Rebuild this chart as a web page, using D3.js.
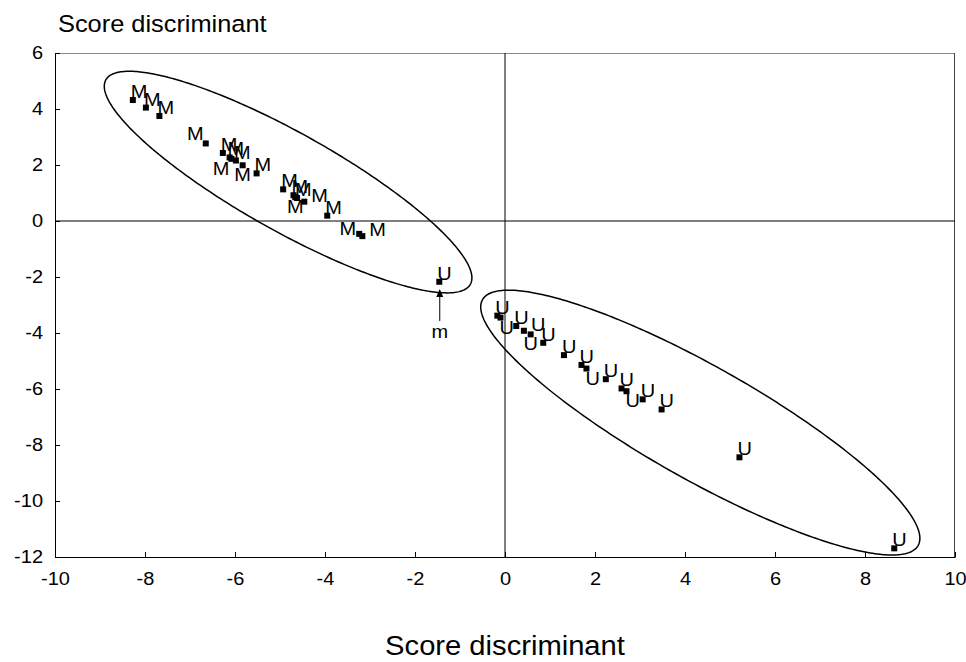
<!DOCTYPE html>
<html>
<head>
<meta charset="utf-8">
<script src="https://cdn.jsdelivr.net/npm/d3@7"></script>
<style>
  body { margin: 0; background: #fff; }
  svg text { font-family: "Liberation Sans", Arial, sans-serif; fill: #000; }
</style>
</head>
<body>
<div id="chart"></div>
<script>
// axes
const xTicks = [-10, -8, -6, -4, -2, 0, 2, 4, 6, 8, 10];
const yTicks = [-12, -10, -8, -6, -4, -2, 0, 2, 4, 6];
const axisTitle = "Score discriminant";

// groupe M
const mX = [-8.27, -7.98, -7.68, -6.65, -6.27, -6.12, -5.98, -5.83, -5.52, -6.08,
            -4.93, -4.70, -4.62, -4.46, -3.95, -4.66, -3.24, -3.17];
const mY = [4.32, 4.05, 3.75, 2.77, 2.43, 2.27, 2.16, 1.99, 1.70, 2.22,
            1.13, 0.92, 0.82, 0.69, 0.19, 0.85, -0.46, -0.54];
const mSide = ['ur','ur','ur','ul','ur','ur','ur','d','ur','dl',
               'ur','ur','ur','r','ur','d','l','r'];

// groupe U
const uX = [-1.46, -0.17, -0.10, 0.25, 0.42, 0.57, 0.85, 1.31, 1.70, 1.81,
            2.24, 2.59, 2.70, 3.06, 3.48, 5.21, 8.65];
const uY = [-2.17, -3.38, -3.45, -3.75, -3.92, -4.05, -4.35, -4.79, -5.14, -5.27,
            -5.65, -5.98, -6.08, -6.37, -6.73, -8.44, -11.69];
const uSide = ['ur','ur','dr','ur','r','d','ur','ur','ur','dr',
               'ur','ur','dr','ur','ur','ur','ur'];

// ellipses (centre + demi-diametres conjugues, en unites du graphe)
const ellCx = [-4.82, 4.34];
const ellCy = [1.39, -7.20];
const ellAx = [4.05, 4.84];
const ellAy = [-3.65, -4.39];
const ellBx = [-0.53, -0.62];
const ellBy = [-1.53, -1.76];

// fleche "m"
const arrowX = -1.45;
const arrowY = [-3.57, -2.43];
const arrowLabel = "m";

const svg_width = 966, svg_height = 662;
const margin = {top: 53, right: 11, bottom: 105, left: 55};
const width = svg_width - margin.left - margin.right;
const height = svg_height - margin.top - margin.bottom;
const stretch = 1.08;

const svg = d3.select('#chart').append('svg')
  .attr('width', svg_width).attr('height', svg_height);
const g = svg.append('g').attr('transform', `translate(${margin.left},${margin.top})`);

const x = d3.scaleLinear().domain([-10, 10]).range([0, width]);
const y = d3.scaleLinear().domain([-12, 6]).range([height, 0]);

// cadre haut / droite
g.append('line').attr('x1', 0).attr('x2', width).attr('y1', 0.5).attr('y2', 0.5)
  .attr('stroke', '#8a8a8a').attr('stroke-width', 1);
g.append('line').attr('x1', width - 0.5).attr('x2', width - 0.5).attr('y1', 0).attr('y2', height)
  .attr('stroke', '#444').attr('stroke-width', 1);

// lignes du zero
g.append('line').attr('x1', x(0)).attr('x2', x(0)).attr('y1', 0).attr('y2', height)
  .attr('stroke', '#000').attr('stroke-width', 1);
g.append('line').attr('x1', 0).attr('x2', width).attr('y1', y(0)).attr('y2', y(0))
  .attr('stroke', '#000').attr('stroke-width', 1);

// axes (tiret simple comme signe moins)
const plain = d => String(d);
const xAxis = d3.axisBottom(x).tickValues(xTicks).tickFormat(plain)
  .tickSizeInner(-5).tickSizeOuter(0).tickPadding(15);
const xAxisDraw = g.append('g').attr('transform', `translate(0,${height})`).call(xAxis);
const yAxis = d3.axisLeft(y).tickValues(yTicks).tickFormat(plain)
  .tickSizeInner(-5).tickSizeOuter(0).tickPadding(12);
const yAxisDraw = g.append('g').call(yAxis);
[xAxisDraw, yAxisDraw].forEach(a => {
  a.select('.domain').attr('stroke', '#000');
  a.selectAll('.tick line').attr('stroke', '#000');
  a.selectAll('text').style('font-size', '18.5px').attr('font-family', null)
    .attr('transform', `scale(${stretch},1)`);
});
yAxisDraw.selectAll('text').attr('x', -12 / stretch);

// ellipses
const ellLine = d3.line().curve(d3.curveLinearClosed);
ellCx.forEach((cx, i) => {
  const pts = d3.range(0, 2 * Math.PI, Math.PI / 180).map(t => [
    x(cx + Math.cos(t) * ellAx[i] + Math.sin(t) * ellBx[i]),
    y(ellCy[i] + Math.cos(t) * ellAy[i] + Math.sin(t) * ellBy[i])
  ]);
  g.append('path').attr('d', ellLine(pts))
    .attr('fill', 'none').attr('stroke', '#000').attr('stroke-width', 1.5);
});

// points et etiquettes
function labelPos(side, px, py) {
  switch (side) {
    case 'ul': return {x: px - 2, y: py - 3, a: 'end'};
    case 'l':  return {x: px - 3, y: py + 1, a: 'end'};
    case 'r':  return {x: px + 7, y: py, a: 'start'};
    case 'd':  return {x: px, y: py + 16, a: 'middle'};
    case 'dl': return {x: px - 2, y: py + 16, a: 'end'};
    case 'dr': return {x: px - 1, y: py + 16, a: 'start'};
    default:   return {x: px - 2, y: py - 2, a: 'start'};
  }
}

function drawGroup(xs, ys, sides, letter) {
  const data = xs.map((v, i) => ({x: v, y: ys[i], side: sides[i]}));
  const grp = g.append('g');
  grp.selectAll('rect').data(data).enter().append('rect')
    .attr('x', d => x(d.x) - 3).attr('y', d => y(d.y) - 3)
    .attr('width', 6).attr('height', 6).attr('fill', '#000');
  grp.selectAll('text').data(data).enter().append('text')
    .each(function(d) {
      const p = labelPos(d.side, x(d.x), y(d.y));
      d3.select(this)
        .attr('transform', `translate(${p.x},${p.y}) scale(${stretch},1)`)
        .attr('text-anchor', p.a);
    })
    .style('font-size', '18.5px')
    .text(letter);
}
drawGroup(mX, mY, mSide, 'M');
drawGroup(uX, uY, uSide, 'U');

// fleche
g.append('line').attr('x1', x(arrowX)).attr('x2', x(arrowX))
  .attr('y1', y(arrowY[0])).attr('y2', y(arrowY[1]) + 6)
  .attr('stroke', '#000').attr('stroke-width', 1);
g.append('path')
  .attr('d', d3.line()([[x(arrowX), y(arrowY[1])], [x(arrowX) - 3.5, y(arrowY[1]) + 8], [x(arrowX) + 3.5, y(arrowY[1]) + 8]]) + 'Z')
  .attr('fill', '#000');
g.append('text')
  .attr('transform', `translate(${x(arrowX)},${y(arrowY[0]) + 17}) scale(${stretch},1)`)
  .attr('text-anchor', 'middle').style('font-size', '18.5px').text(arrowLabel);

// titres
svg.append('text').attr('transform', `translate(58,32) scale(${stretch},1)`)
  .style('font-size', '23.5px').text(axisTitle);
svg.append('text').attr('transform', `translate(${margin.left + x(0)},655) scale(${stretch},1)`)
  .attr('text-anchor', 'middle').style('font-size', '27px').text(axisTitle);
</script>
</body>
</html>
